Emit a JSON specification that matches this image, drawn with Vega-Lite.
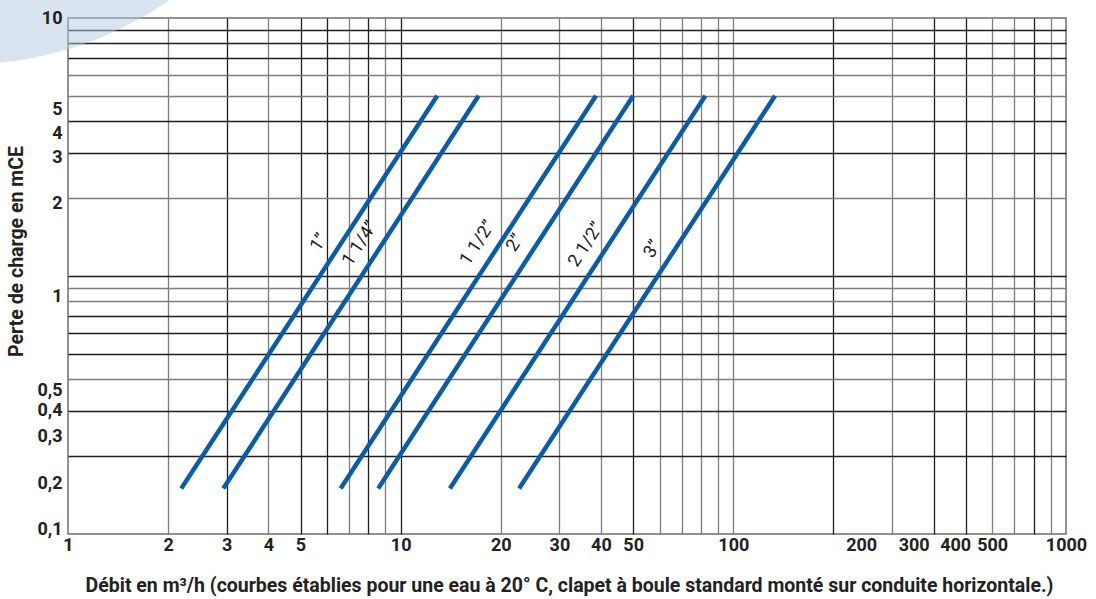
{
  "$schema": "https://vega.github.io/schema/vega-lite/v6.json",
  "width": 998,
  "height": 516,
  "autosize": "none",
  "padding": {"left": 68, "top": 18, "right": 30, "bottom": 65},
  "background": "white",
  "config": {
    "font": "Roboto",
    "view": {"stroke": "#6e6e6e", "strokeWidth": 1.5}
  },
  "datasets": {
    "curves": [
      {"diametre": "1”", "debit": 2.19, "perte": 0.15},
      {"diametre": "1”", "debit": 12.88, "perte": 5},
      {"diametre": "1 1/4”", "debit": 2.93, "perte": 0.15},
      {"diametre": "1 1/4”", "debit": 17.15, "perte": 5},
      {"diametre": "1 1/2”", "debit": 6.6, "perte": 0.15},
      {"diametre": "1 1/2”", "debit": 38.65, "perte": 5},
      {"diametre": "2”", "debit": 8.56, "perte": 0.15},
      {"diametre": "2”", "debit": 50.0, "perte": 5},
      {"diametre": "2 1/2”", "debit": 14.06, "perte": 0.15},
      {"diametre": "2 1/2”", "debit": 82.4, "perte": 5},
      {"diametre": "3”", "debit": 22.7, "perte": 0.15},
      {"diametre": "3”", "debit": 133.5, "perte": 5}
    ],
    "labels": [
      {"diametre": "1”", "debit": 6.36, "perte": 1.228},
      {"diametre": "1 1/4”", "debit": 8.43, "perte": 1.217},
      {"diametre": "1 1/2”", "debit": 19.05, "perte": 1.223},
      {"diametre": "2”", "debit": 24.69, "perte": 1.223},
      {"diametre": "2 1/2”", "debit": 40.3, "perte": 1.205},
      {"diametre": "3”", "debit": 63.97, "perte": 1.158}
    ]
  },
  "layer": [
    {
      "data": {"values": [{}]},
      "mark": {"type": "point", "shape": "circle", "filled": true, "size": 518400, "color": "#b3cae3", "opacity": 0.5, "clip": false},
      "encoding": {
        "x": {
          "datum": 0.486, "type": "quantitative",
          "scale": {"type": "log", "domain": [1, 1000], "nice": false},
          "axis": {
            "orient": "bottom",
            "values": [2, 3, 4, 5, 6, 7, 8, 9, 10, 20, 30, 40, 50, 60, 70, 80, 90, 100, 200, 300, 400, 500, 600, 700, 800, 900],
            "grid": true, "labels": false, "ticks": false, "domain": false, "title": null,
            "gridWidth": 1.3,
            "gridColor": {"condition": {"test": "indexof([3,5,6,8,10,50,200,400,500,800], datum.value) >= 0", "value": "#1e1e1e"}, "value": "#7d7d7d"},
            "zindex": 0
          }
        },
        "y": {
          "datum": 164, "type": "quantitative",
          "scale": {"type": "log", "domain": [0.1, 10], "nice": false},
          "axis": {
            "orient": "left",
            "values": [0.2, 0.3, 0.4, 0.5, 0.6, 0.7, 0.8, 0.9, 1, 2, 3, 4, 5, 6, 7, 8, 9],
            "grid": true, "labels": false, "ticks": false, "domain": false, "title": null,
            "gridWidth": 1.3,
            "gridColor": {"condition": {"test": "indexof([9,8,7,4,3,1,0.7,0.6,0.5,0.3,0.2], datum.value) >= 0", "value": "#1e1e1e"}, "value": "#7d7d7d"},
            "zindex": 0
          }
        }
      }
    },
    {
      "data": {"name": "curves"},
      "mark": {"type": "line", "color": "#0a5ca8", "strokeWidth": 4.5, "clip": false},
      "encoding": {
        "detail": {"field": "diametre", "type": "nominal"},
        "x": {
          "field": "debit", "type": "quantitative",
          "axis": {
            "orient": "bottom",
            "values": [1, 2, 3, 4, 5, 10, 20, 30, 40, 50, 100, 242.2, 348.3, 464.4, 599.8, 1000],
            "labelExpr": "datum.value < 150 ? toString(round(datum.value)) : datum.value < 300 ? '200' : datum.value < 400 ? '300' : datum.value < 520 ? '400' : datum.value < 800 ? '500' : '1000'",
            "grid": false, "ticks": false, "domain": false,
            "labelFont": "Roboto", "labelFontWeight": "bold", "labelFontSize": 18, "labelColor": "#222222",
            "labelPadding": 2, "labelOverlap": false, "labelFlush": false, "labelBaseline": "top",
            "title": "Débit en m³/h (courbes établies pour une eau à 20° C, clapet à boule standard monté sur conduite horizontale.)",
            "titleFont": "Roboto", "titleFontWeight": "bold", "titleFontSize": 19.5, "titleColor": "#222222",
            "titleX": 501, "titleY": 51, "titleBaseline": "middle", "titleAlign": "center",
            "zindex": 1
          }
        },
        "y": {
          "field": "perte", "type": "quantitative",
          "axis": {
            "orient": "left",
            "values": [10, 4.42, 3.57, 2.89, 1.91, 0.83, 0.359, 0.302, 0.238, 0.157, 0.104],
            "labelExpr": "datum.value > 7 ? '10' : datum.value > 4 ? '5' : datum.value > 3.2 ? '4' : datum.value > 2.4 ? '3' : datum.value > 1.4 ? '2' : datum.value > 0.6 ? '1' : datum.value > 0.33 ? '0,5' : datum.value > 0.27 ? '0,4' : datum.value > 0.2 ? '0,3' : datum.value > 0.13 ? '0,2' : '0,1'",
            "grid": false, "ticks": false, "domain": false,
            "labelFont": "Roboto", "labelFontWeight": "bold", "labelFontSize": 18, "labelColor": "#222222",
            "labelPadding": 6, "labelOverlap": false, "labelFlush": false, "labelBaseline": "middle",
            "title": "Perte de charge en mCE",
            "titleFont": "Roboto", "titleFontWeight": "bold", "titleFontSize": 19.5, "titleColor": "#222222",
            "titleX": -52, "titleY": 233, "titleAngle": 270, "titleBaseline": "middle", "titleAlign": "center",
            "zindex": 1
          }
        }
      }
    },
    {
      "data": {"name": "labels"},
      "mark": {"type": "text", "angle": 303, "align": "center", "baseline": "middle", "dy": -19, "font": "Roboto", "fontSize": 18, "color": "#1a1a1a"},
      "encoding": {
        "x": {"field": "debit", "type": "quantitative", "axis": null},
        "y": {"field": "perte", "type": "quantitative", "axis": null},
        "text": {"field": "diametre", "type": "nominal"}
      }
    }
  ],
  "resolve": {"axis": {"x": "independent", "y": "independent"}}
}
